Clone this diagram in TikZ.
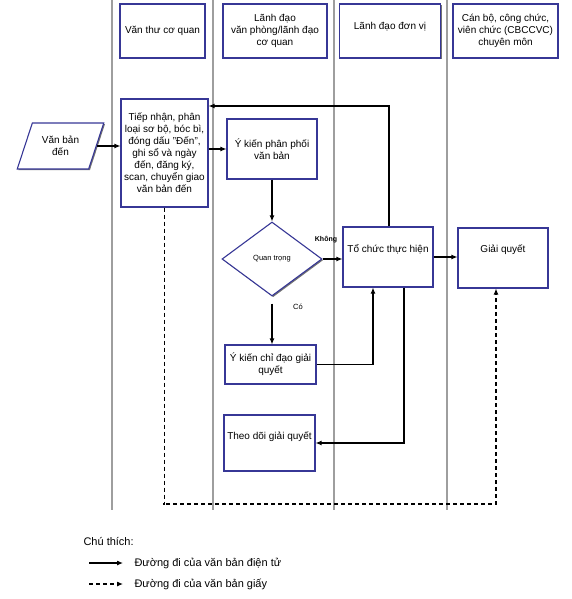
\documentclass[tikz,border=0pt]{standalone}
\usepackage{fontspec}
\setmainfont{Liberation Sans}
\usetikzlibrary{shapes.geometric, positioning, arrows.meta, shadows}
\definecolor{boxblue}{RGB}{55,55,150}

\begin{document}
\begin{tikzpicture}[x=1pt, y=-1pt,
        font=\fontsize{10}{12}\selectfont,
        box/.style={draw=boxblue, line width=1.1pt, fill=white, align=center, inner sep=1pt,
            drop shadow={shadow xshift=1.2pt, shadow yshift=-1.2pt, fill=black!55, opacity=1}},
        lane/.style={draw=black!38, line width=1.2pt},
        arr/.style={-{Latex[length=6pt, width=5pt]}, line width=1.1pt},
        paper/.style={arr, dash pattern=on 4pt off 3pt}]
        \useasboundingbox (0,0) rectangle (572,599);

        % lanes
        \foreach \lx in {112, 213, 334, 447}
            \draw[lane] (\lx,0) -- (\lx,510);

        % headers
        \node[box, minimum width=85pt, minimum height=54pt] (vanthu) at (162.5,31) {Văn thư cơ quan};
        \node[box, minimum width=104pt, minimum height=54pt] (ldvp) at (275,31) {Lãnh đạo\\văn phòng/lãnh đạo\\cơ quan};
        \node[box, minimum width=101pt, minimum height=54pt,
            label={[anchor=north, yshift=-15pt]north:Lãnh đạo đơn vị}] (lddv) at (390,31) {};
        \node[box, minimum width=105pt, minimum height=54pt] (cbccvc) at (505.5,31) {Cán bộ, công chức,\\viên chức (CBCCVC)\\chuyên môn};

        % flow
        \node[box, trapezium, trapezium left angle=64, trapezium right angle=116, trapezium stretches=true,
            minimum width=87pt, minimum height=46pt] (vanbanden) at (60.5,146) {Văn bản\\đến};
        \node[box, minimum width=87pt, minimum height=108pt] (tiepnhan) at (164.5,153)
            {Tiếp nhận, phân\\loại sơ bộ, bóc bì,\\đóng dấu "Đến",\\ghi sổ và ngày\\đến, đăng ký,\\scan, chuyển giao\\văn bản đến};
        \node[box, minimum width=90pt, minimum height=60pt] (ykienpp) at (272,149) {Ý kiến phân phối\\văn bản};
        \node[box, diamond, minimum width=100pt, minimum height=74pt, font=\fontsize{7.5}{9}\selectfont] (quantrong) at (272,259) {Quan trọng};
        \node[box, minimum width=90pt, minimum height=60pt,
            label={[anchor=north, yshift=-14pt]north:Tổ chức thực hiện}] (tochuc) at (388,257) {};
        \node[box, minimum width=90pt, minimum height=60pt,
            label={[anchor=north, yshift=-14pt]north:Giải quyết}] (giaiquyet) at (503,258) {};
        \node[box, minimum width=91pt, minimum height=39pt] (chidao) at (270.5,364.5) {Ý kiến chỉ đạo giải\\quyết};
        \node[box, minimum width=91pt, minimum height=56pt,
            label={[anchor=north, yshift=-14pt]north:Theo dõi giải quyết}] (theodoi) at (269.5,443) {};

        \node[font=\fontsize{7}{8}\selectfont\bfseries] (khong) at (326,240) {Không};
        \node[font=\fontsize{7.5}{9}\selectfont] (co) at (298,307) {Có};

        \coordinate (fb) at (389,106);
        \coordinate (dl) at (163,504);

        \draw[arr] (vanbanden.east) -- (tiepnhan.west |- vanbanden.east);
        \draw[arr] (tiepnhan.east |- ykienpp.west) -- (ykienpp.west);
        \draw[arr] (ykienpp.south) -- (quantrong.north);
        \draw[arr] (quantrong.east) -- (tochuc.west |- quantrong.east);
        \draw[arr] (tochuc.east) -- (giaiquyet.west |- tochuc.east);
        \draw[arr] ([yshift=-7pt]quantrong.south) -- (chidao.north -| quantrong.south);
        \draw[arr] (chidao.east) -| ([xshift=-15pt]tochuc.south);
        \draw[arr] ([xshift=1pt]tochuc.north) |- (tiepnhan.east |- fb);
        \draw[arr] ([xshift=16pt]tochuc.south) |- (theodoi.east);
        \draw[paper] (tiepnhan.south) |- (dl) -| ([xshift=-7pt]giaiquyet.south);

        % legend
        \node[anchor=west, font=\fontsize{11}{13}\selectfont] (chuthich) at (80,541) {Chú thích:};
        \coordinate (leg1) at (89,563);
        \coordinate (leg2) at (89,584);
        \node[anchor=west, font=\fontsize{11}{13}\selectfont] (dientu) at (131,563) {Đường đi của văn bản điện tử};
        \node[anchor=west, font=\fontsize{11}{13}\selectfont] (giay) at (131,584) {Đường đi của văn bản giấy};
        \draw[arr] (leg1) -- ([xshift=-8pt]dientu.west);
        \draw[paper] (leg2) -- ([xshift=-8pt]giay.west);
    \end{tikzpicture}
\end{document}
